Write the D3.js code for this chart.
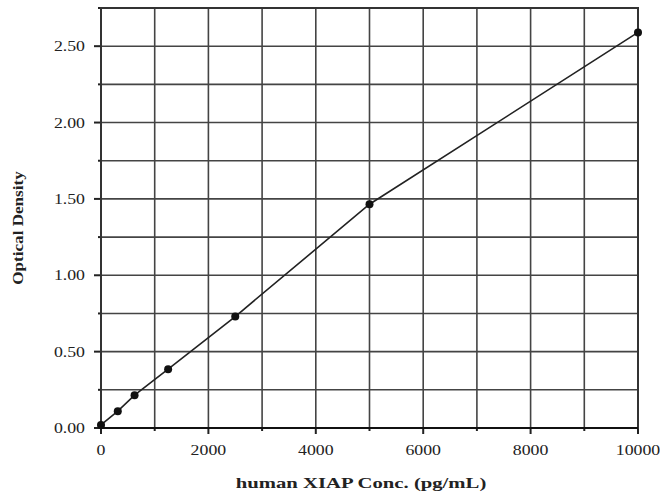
<!doctype html>
<html>
<head>
<meta charset="utf-8">
<script src="https://cdn.jsdelivr.net/npm/d3@7"></script>
<style>
  body { margin: 0; background: #fff; }
  svg text { font-family: "Liberation Serif", "DejaVu Serif", serif; fill: #222; }
</style>
</head>
<body>
<script>
// standard curve values
var conc = [0, 312.5, 625, 1250, 2500, 5000, 10000];
var od = [0.02, 0.11, 0.215, 0.385, 0.73, 1.465, 2.59];
var xTicks = [0, 2000, 4000, 6000, 8000, 10000];
var yTicks = [0, 0.5, 1.0, 1.5, 2.0, 2.5];

var w = 660, h = 495;
var m = {left: 101, right: 22, top: 8, bottom: 67};
var sx = 1.27; // the original type is a bit wide

var svg = d3.select("body").append("svg")
  .attr("width", w)
  .attr("height", h);

var x = d3.scaleLinear().domain([0, 10000]).range([m.left, w - m.right]);
var y = d3.scaleLinear().domain([0, 2.75]).range([h - m.bottom, m.top]);

var g = svg.append("g");

// grid lines
g.selectAll(".vg").data(d3.range(0, 10001, 1000)).enter().append("line")
  .attr("x1", function(d){ return x(d); }).attr("x2", function(d){ return x(d); })
  .attr("y1", y(0)).attr("y2", y(2.75))
  .attr("stroke", "#444").attr("stroke-width", 1.6);
g.selectAll(".hg").data(d3.range(0, 2.76, 0.25)).enter().append("line")
  .attr("x1", x(0)).attr("x2", x(10000))
  .attr("y1", function(d){ return y(d); }).attr("y2", function(d){ return y(d); })
  .attr("stroke", "#444").attr("stroke-width", 1.6);

// frame
svg.append("rect")
  .attr("x", x(0)).attr("y", y(2.75))
  .attr("width", x(10000) - x(0)).attr("height", y(0) - y(2.75))
  .attr("fill", "none").attr("stroke", "#333").attr("stroke-width", 2);
svg.append("line")
  .attr("x1", x(0)).attr("x2", x(10000)).attr("y1", y(0)).attr("y2", y(0))
  .attr("stroke", "#111").attr("stroke-width", 2.2);

// ticks
g.selectAll(".xt").data(d3.range(0, 10001, 1000)).enter().append("line")
  .attr("x1", function(d){ return x(d); }).attr("x2", function(d){ return x(d); })
  .attr("y1", y(0)).attr("y2", function(d){ return y(0) + (d % 2000 === 0 ? 6 : 3); })
  .attr("stroke", "#222").attr("stroke-width", 2);
g.selectAll(".yt").data(d3.range(0, 2.76, 0.25)).enter().append("line")
  .attr("y1", function(d){ return y(d); }).attr("y2", function(d){ return y(d); })
  .attr("x1", x(0)).attr("x2", function(d, i){ return x(0) - (i % 2 === 0 ? 7 : 3); })
  .attr("stroke", "#222").attr("stroke-width", 2);

// tick labels
svg.selectAll(".xl").data(xTicks).enter().append("text")
  .attr("transform", function(d){ return "translate(" + x(d) + "," + (y(0) + 27) + ") scale(" + sx + ",1)"; })
  .attr("text-anchor", "middle")
  .attr("font-size", 14)
  .text(function(d){ return d; });
svg.selectAll(".yl").data(yTicks).enter().append("text")
  .attr("transform", function(d){ return "translate(" + (x(0) - 16) + "," + (y(d) + 5) + ") scale(" + sx + ",1)"; })
  .attr("text-anchor", "end")
  .attr("font-size", 14)
  .text(function(d){ return d.toFixed(2); });

// axis titles
svg.append("text")
  .attr("transform", "translate(361,488) scale(1.38,1)")
  .attr("text-anchor", "middle")
  .attr("font-size", 15).attr("font-weight", "bold")
  .text("human XIAP Conc. (pg/mL)");
svg.append("text")
  .attr("transform", "translate(23,228) rotate(-90) scale(1.22,1)")
  .attr("text-anchor", "middle")
  .attr("font-size", 14).attr("font-weight", "bold")
  .text("Optical Density");

// curve
var pts = conc.map(function(c, i){ return [c, od[i]]; });
var line = d3.line()
  .x(function(d){ return x(d[0]); })
  .y(function(d){ return y(d[1]); });
svg.append("path").datum(pts)
  .attr("d", line)
  .attr("fill", "none").attr("stroke", "#222").attr("stroke-width", 1.6);

svg.selectAll(".pt").data(pts).enter().append("circle")
  .attr("cx", function(d){ return x(d[0]); })
  .attr("cy", function(d){ return y(d[1]); })
  .attr("r", 4)
  .attr("fill", "#111");
</script>
</body>
</html>
